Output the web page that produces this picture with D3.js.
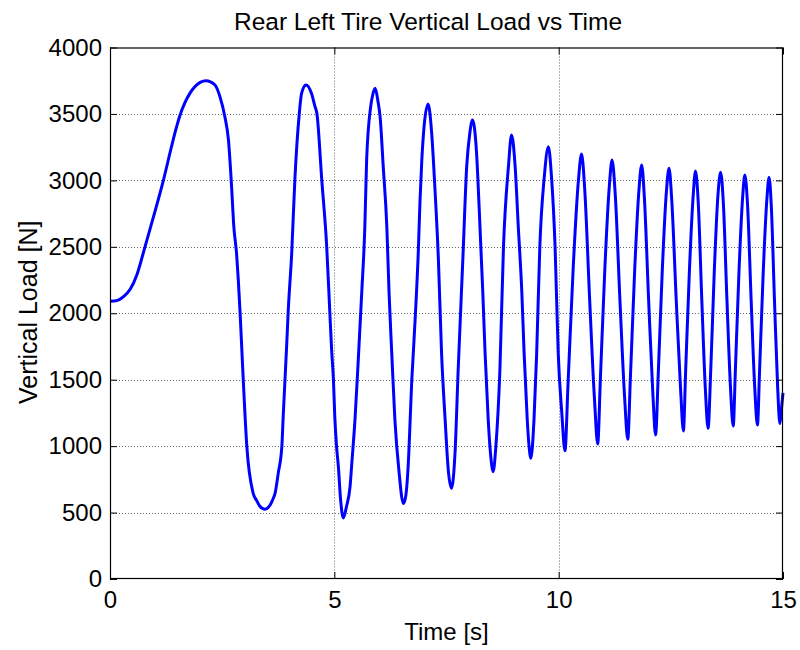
<!DOCTYPE html>
<html>
<head>
<meta charset="utf-8">
<script src="https://cdn.jsdelivr.net/npm/d3@7"></script>
<style>
  html, body { margin: 0; padding: 0; background: #fff; }
  svg { display: block; font-family: Arial, "Liberation Sans", Helvetica, sans-serif; }
</style>
</head>
<body>
<svg id="chart" width="800" height="650"></svg>
<script>
// Tire load time history: time [s] and vertical load [N]
const time = [
  0.00, 0.15, 0.30, 0.45, 0.60, 0.78, 0.97, 1.19, 1.37, 1.47, 1.56, 1.67, 1.78, 1.89, 2.01, 2.14, 2.34, 2.45, 2.56, 2.64,
  2.71, 2.76, 2.82, 2.86, 2.90, 2.97, 3.05, 3.19, 3.27, 3.34, 3.45, 3.57, 3.64, 3.68, 3.75, 3.83, 3.86, 3.90, 3.94, 3.97,
  4.05, 4.12, 4.22, 4.27, 4.37, 4.49, 4.57, 4.61, 4.72, 4.83, 4.90, 4.94, 4.98, 5.01, 5.05, 5.09, 5.14, 5.20, 5.27, 5.35,
  5.39, 5.46, 5.53, 5.61, 5.68, 5.72, 5.81, 5.86, 5.91, 5.97, 6.02, 6.09, 6.17, 6.22, 6.28, 6.35, 6.46, 6.50, 6.54, 6.59,
  6.66, 6.69, 6.72, 6.76, 6.80, 6.87, 6.91, 6.95, 7.00, 7.09, 7.17, 7.24, 7.32, 7.39, 7.47, 7.54, 7.61, 7.69, 7.76, 7.87,
  7.95, 8.02, 8.08, 8.17, 8.23, 8.31, 8.36, 8.43, 8.48, 8.54, 8.60, 8.69, 8.77, 8.88, 8.95, 9.03, 9.10, 9.18, 9.23, 9.30,
  9.34, 9.38, 9.45, 9.51, 9.58, 9.68, 9.77, 9.84, 9.92, 9.99, 10.07, 10.14, 10.21, 10.325, 10.44, 10.51, 10.58, 10.69, 10.80, 10.87,
  10.93, 11.03, 11.13, 11.19, 11.26, 11.365, 11.47, 11.54, 11.60, 11.695, 11.79, 11.85, 11.91, 12.005, 12.10, 12.16, 12.22, 12.31, 12.40, 12.46,
  12.52, 12.62, 12.72, 12.78, 12.83, 12.915, 13.00, 13.05, 13.11, 13.19, 13.27, 13.33, 13.39, 13.47, 13.55, 13.61, 13.67, 13.75, 13.83, 13.89,
  13.94, 14.02, 14.10, 14.15, 14.21, 14.29, 14.37, 14.43, 14.48, 14.56, 14.64, 14.69, 14.74, 14.81, 14.88, 14.93, 14.96, 15.00
];
const load = [
  2090, 2095, 2125, 2180, 2290, 2500, 2727, 3000, 3253, 3385, 3490, 3585, 3655, 3705, 3738, 3750, 3718, 3630, 3479, 3304,
  2952, 2651, 2453, 2250, 2000, 1498, 996, 647, 590, 548, 525, 557, 607, 647, 797, 996, 1221, 1498, 1774, 2002,
  2453, 3003, 3507, 3655, 3718, 3655, 3555, 3507, 3003, 2501, 2002, 1723, 1498, 1221, 996, 845, 595, 460, 544, 695,
  873, 1197, 1626, 2150, 2651, 3153, 3555, 3650, 3693, 3600, 3479, 3103, 2651, 2150, 1699, 1197, 745, 620, 568, 620,
  948, 1197, 1447, 1700, 1949, 2450, 2850, 3153, 3404, 3575, 3354, 2952, 2400, 1700, 1197, 820, 683, 948, 1573, 2453,
  3103, 3356, 3454, 3206, 2777, 2150, 1700, 1197, 948, 808, 996, 1573, 2501, 3103, 3341, 3103, 2651, 2150, 1700, 1197,
  1000, 908, 1197, 1700, 2501, 3028, 3254, 3028, 2501, 1700, 1249, 965, 1479, 2350, 2998, 3199, 2937, 2108, 1343, 1016,
  1508, 2341, 2961, 3153, 2901, 2102, 1366, 1051, 1526, 2331, 2930, 3116, 2872, 2100, 1389, 1084, 1546, 2328, 2910, 3091,
  2854, 2103, 1411, 1114, 1564, 2327, 2895, 3071, 2839, 2103, 1425, 1134, 1577, 2329, 2888, 3061, 2832, 2106, 1438, 1151,
  1585, 2322, 2870, 3040, 2814, 2100, 1441, 1159, 1588, 2315, 2855, 3023, 2801, 2098, 1450, 1170, 1260, 1400
];

// Axis ticks and labels
const xTicks = [0, 5, 10, 15];
const yTicks = [0, 500, 1000, 1500, 2000, 2500, 3000, 3500, 4000];
const titleText = "Rear Left Tire Vertical Load vs Time";
const xLabel = "Time [s]";
const yLabel = "Vertical Load [N]";

const svg = d3.select("#chart");
const margin = { left: 110, right: 17, top: 47.5, bottom: 71 };
const W = 800, H = 650;
const x = d3.scaleLinear().domain([0, 15]).range([margin.left, W - margin.right]);
const y = d3.scaleLinear().domain([0, 4000]).range([H - margin.bottom, margin.top]);

const x0 = x.range()[0], x1 = x.range()[1];
const y0 = y.range()[0], y1 = y.range()[1];

// Plot area background
svg.append("rect").attr("x", x0).attr("y", y1).attr("width", x1 - x0).attr("height", y0 - y1).attr("fill", "#fff");

// Dotted grid
const grid = svg.append("g").attr("stroke", "#000").attr("stroke-opacity", 0.6)
  .attr("stroke-width", 1).attr("stroke-dasharray", "1,2");
grid.selectAll("line.gy").data(yTicks.filter(v => v > 0 && v < 4000)).join("line")
  .attr("x1", x0).attr("x2", x1)
  .attr("y1", d => Math.round(y(d)) + 0.5).attr("y2", d => Math.round(y(d)) + 0.5);
grid.selectAll("line.gx").data(xTicks.filter(v => v > 0 && v < 15)).join("line")
  .attr("y1", y1).attr("y2", y0)
  .attr("x1", d => Math.round(x(d)) + 0.5).attr("x2", d => Math.round(x(d)) + 0.5);

// Load curve
const line = d3.line()
  .x((d, i) => x(time[i]))
  .y((d, i) => y(load[i]))
  .curve(d3.curveMonotoneX);
svg.append("path")
  .datum(load)
  .attr("d", line)
  .attr("fill", "none")
  .attr("stroke", "#0000ff")
  .attr("stroke-width", 3)
  .attr("stroke-linejoin", "round");

// Axes: inward ticks on all four sides, labels on bottom and left
const tickLen = 7;
const fontSize = 24;
const fmt = d3.format("d");
const axisB = d3.axisBottom(x).tickValues(xTicks).tickFormat(fmt).tickSizeInner(-tickLen).tickSizeOuter(0).tickPadding(12);
const axisL = d3.axisLeft(y).tickValues(yTicks).tickFormat(fmt).tickSizeInner(-tickLen).tickSizeOuter(0).tickPadding(8);
const axisT = d3.axisTop(x).tickValues(xTicks).tickSizeInner(-tickLen).tickSizeOuter(0).tickFormat("");
const axisR = d3.axisRight(y).tickValues(yTicks).tickSizeInner(-tickLen).tickSizeOuter(0).tickFormat("");

function styleAxis(g) {
  g.selectAll(".domain").remove();
  g.selectAll(".tick line").attr("stroke", "#000").attr("stroke-width", 1);
  g.selectAll(".tick text").attr("fill", "#000").attr("font-size", fontSize)
    .attr("font-family", "Arial, 'Liberation Sans', sans-serif");
}
svg.append("g").attr("transform", `translate(0,${y0})`).call(axisB).call(styleAxis);
svg.append("g").attr("transform", `translate(${x0},0)`).call(axisL).call(styleAxis);
svg.append("g").attr("transform", `translate(0,${y1})`).call(axisT).call(styleAxis);
svg.append("g").attr("transform", `translate(${x1},0)`).call(axisR).call(styleAxis);

// Axes box
svg.append("rect")
  .attr("x", x0 + 0.5).attr("y", y1 + 0.5)
  .attr("width", x1 - x0 - 1).attr("height", y0 - y1 - 1)
  .attr("fill", "none").attr("stroke", "#000").attr("stroke-width", 1.2);

// Title and axis labels
svg.append("text")
  .attr("x", 428).attr("y", 30)
  .attr("text-anchor", "middle").attr("font-size", 24.5).attr("fill", "#000")
  .text(titleText);
svg.append("text")
  .attr("x", (x0 + x1) / 2).attr("y", 640)
  .attr("text-anchor", "middle").attr("font-size", fontSize).attr("fill", "#000")
  .text(xLabel);
svg.append("text")
  .attr("transform", `translate(37,${(y0 + y1) / 2 - 1}) rotate(-90)`)
  .attr("text-anchor", "middle").attr("font-size", 25).attr("fill", "#000")
  .text(yLabel);
</script>
</body>
</html>
